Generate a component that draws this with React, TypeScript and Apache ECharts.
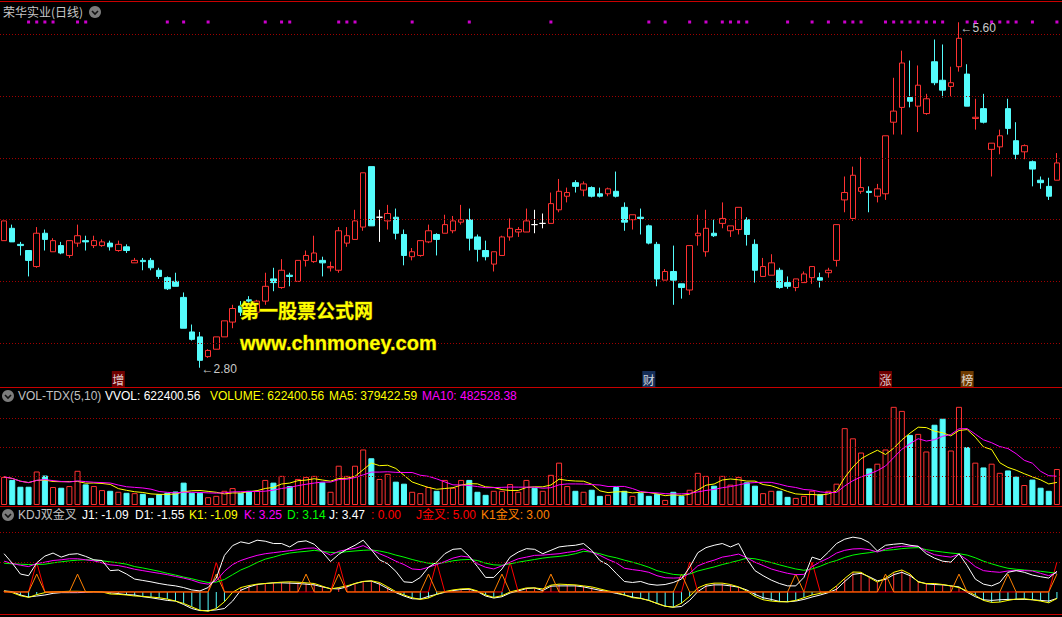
import React, { useEffect, useRef } from 'react';
import * as echarts from 'echarts';

// ---------- DATA ----------
// candles: [open, close, low, high]
const candles: number[][] = [
  [3.83,3.99,3.83,3.99],[3.93,3.82,3.82,3.96],[3.80,3.79,3.71,3.82],[3.75,3.67,3.54,3.75],[3.62,3.89,3.61,3.94],
  [3.89,3.84,3.75,3.92],[3.74,3.83,3.74,3.85],[3.79,3.73,3.72,3.82],[3.71,3.83,3.69,3.83],[3.81,3.87,3.78,3.96],
  [3.83,3.82,3.75,3.87],[3.79,3.83,3.77,3.87],[3.79,3.82,3.78,3.84],[3.81,3.78,3.75,3.83],[3.75,3.80,3.74,3.83],
  [3.78,3.75,3.73,3.80],[3.65,3.67,3.65,3.69],[3.67,3.66,3.59,3.69],[3.67,3.61,3.59,3.69],[3.59,3.54,3.52,3.61],
  [3.53,3.44,3.43,3.54],[3.50,3.46,3.46,3.57],[3.37,3.12,3.12,3.41],[3.09,3.03,3.02,3.15],[3.05,2.86,2.80,3.09],
  [2.89,2.94,2.88,2.95],[2.95,3.05,2.95,3.05],[3.05,3.18,3.05,3.18],[3.17,3.28,3.12,3.31],[3.30,3.25,3.22,3.34],
  [3.35,3.34,3.31,3.38],[3.25,3.34,3.24,3.35],[3.34,3.46,3.31,3.57],[3.52,3.49,3.42,3.61],[3.45,3.59,3.44,3.68],
  [3.55,3.54,3.46,3.57],[3.50,3.67,3.50,3.67],[3.67,3.71,3.62,3.75],[3.66,3.73,3.65,3.87],[3.67,3.65,3.54,3.70],
  [3.61,3.62,3.58,3.66],[3.59,3.91,3.57,3.94],[3.81,3.87,3.78,3.94],[3.84,3.99,3.84,4.08],[3.94,4.38,3.91,4.38],
  [4.43,3.95,3.95,4.43],[4.02,4.02,3.82,4.08],[3.99,4.05,3.92,4.12],[4.02,3.89,3.84,4.09],[3.88,3.71,3.63,3.92],
  [3.70,3.74,3.67,3.77],[3.71,3.83,3.70,3.83],[3.82,3.91,3.81,3.96],[3.88,3.84,3.71,3.89],[3.89,3.96,3.89,4.04],
  [3.91,3.99,3.89,4.03],[3.98,4.00,3.96,4.12],[4.00,3.85,3.75,4.09],[3.86,3.76,3.66,3.88],[3.75,3.70,3.67,3.83],
  [3.64,3.74,3.58,3.74],[3.71,3.86,3.71,3.87],[3.86,3.93,3.83,4.01],[3.90,3.92,3.86,3.94],[3.90,3.99,3.90,4.09],
  [3.96,3.96,3.89,4.08],[3.97,3.97,3.93,4.05],[3.97,4.13,3.97,4.22],[4.08,4.23,4.06,4.33],[4.19,4.22,4.14,4.26],
  [4.30,4.27,4.22,4.32],[4.24,4.29,4.19,4.31],[4.26,4.19,4.18,4.27],[4.21,4.19,4.18,4.26],[4.21,4.25,4.19,4.26],
  [4.23,4.19,4.18,4.39],[4.10,3.98,3.91,4.14],[4.00,4.04,3.92,4.04],[4.02,4.01,3.88,4.09],[3.95,3.81,3.80,3.96],
  [3.80,3.52,3.46,3.82],[3.51,3.58,3.51,3.60],[3.58,3.51,3.31,3.79],[3.48,3.45,3.36,3.48],[3.43,3.79,3.39,3.79],
  [3.87,3.89,3.79,4.04],[3.74,3.93,3.70,4.08],[3.89,3.87,3.86,4.00],[3.97,4.01,3.93,4.14],[3.91,3.95,3.86,3.95],
  [3.92,4.10,3.88,4.10],[4.00,3.88,3.79,4.02],[3.80,3.59,3.49,3.84],[3.54,3.62,3.54,3.69],[3.55,3.65,3.55,3.72],
  [3.59,3.45,3.44,3.61],[3.49,3.46,3.44,3.54],[3.45,3.52,3.42,3.52],[3.49,3.56,3.49,3.58],[3.53,3.62,3.48,3.62],
  [3.53,3.51,3.45,3.57],[3.57,3.59,3.53,3.61],[3.67,3.96,3.62,3.96],[4.16,4.22,4.06,4.35],[4.01,4.36,3.99,4.43],
  [4.23,4.26,4.21,4.51],[4.23,4.22,4.06,4.27],[4.19,4.25,4.14,4.29],[4.21,4.68,4.16,4.68],[4.79,4.88,4.69,5.15],
  [4.91,5.27,4.69,5.37],[4.99,4.96,4.91,5.29],[4.92,5.09,4.71,5.25],[4.86,4.98,4.85,5.02],[5.28,5.11,5.09,5.46],
  [5.13,5.05,4.99,5.42],[5.08,5.11,5.00,5.24],[5.24,5.47,5.20,5.60],[5.18,4.92,4.92,5.26],[4.82,4.83,4.73,4.98],
  [4.90,4.79,4.78,5.02],[4.57,4.62,4.35,4.62],[4.59,4.68,4.53,4.73],[4.90,4.74,4.69,4.98],[4.64,4.53,4.49,4.79],
  [4.55,4.60,4.49,4.61],[4.47,4.41,4.27,4.48],[4.32,4.30,4.25,4.35],[4.27,4.19,4.16,4.34],[4.32,4.46,4.32,4.54],
];
const categories = candles.map((_, i) => String(i + 1));
const whiteDoji = [46, 65, 66];

const volumes: number[] = [
  486000,434000,316000,316000,580000,510000,311000,299000,328000,592000,
  357000,328000,258000,246000,229000,211000,205000,193000,123000,188000,
  211000,234000,387000,211000,211000,135000,158000,246000,293000,211000,
  246000,246000,434000,387000,504000,328000,451000,486000,504000,393000,
  229000,680000,504000,680000,961000,809000,451000,539000,404000,369000,
  229000,205000,311000,246000,434000,299000,434000,434000,229000,176000,
  246000,246000,363000,229000,434000,299000,246000,522000,733000,328000,
  246000,229000,264000,158000,176000,311000,246000,158000,211000,158000,
  193000,88000,229000,158000,264000,557000,504000,334000,504000,352000,
  486000,393000,334000,205000,246000,246000,141000,123000,158000,246000,
  188000,246000,369000,1330000,1154000,908000,633000,715000,961000,1699000,
  1629000,1213000,1231000,926000,1389000,1494000,943000,1699000,1002000,733000,
  650000,715000,557000,598000,492000,346000,440000,299000,246000,622400.56,
];

const kdjJ: number[] = [
  6.42,4.83,3.01,2.73,4.89,6.02,6.53,5.85,6.31,6.42, 5.97,5.40,5.28,3.58,3.69,3.01,2.16,1.93,1.70,1.42,
  1.19,1.02,0.74,0.34,0.17,0.74,2.33,6.14,7.78,8.41, 8.13,8.69,8.52,8.13,8.13,7.56,8.41,8.58,8.01,6.70,
  5.11,6.31,7.16,7.84,8.69,7.10,5.40,4.72,3.47,1.70, 1.59,2.44,4.15,5.00,6.42,7.16,7.27,5.97,4.26,2.44,
  2.44,3.86,5.85,6.70,7.27,7.16,6.42,6.99,7.56,7.73, 7.84,8.13,6.99,5.28,4.55,3.13,1.76,1.59,1.76,1.31,
  1.14,1.25,1.59,2.16,4.15,6.59,7.44,7.84,8.13,7.56, 8.13,5.57,3.58,2.73,1.99,1.42,1.02,1.02,2.44,5.85,
  5.40,6.70,8.13,8.86,9.20,8.98,8.30,6.88,7.84,8.01, 8.13,7.84,7.67,6.42,5.68,5.17,5.00,6.42,4.43,2.16,
  1.31,1.02,1.59,3.30,3.58,3.30,2.84,2.56,2.33,3.47,
];
const kdjK: number[] = [
  5.17,4.77,4.49,4.26,4.77,5.00,5.28,5.40,5.57,5.57, 5.40,5.23,4.89,4.55,4.43,4.15,3.81,3.58,3.35,3.13,
  2.90,2.61,2.33,1.99,1.53,1.31,1.88,3.47,4.60,5.28, 5.74,6.14,6.42,6.59,6.76,6.93,7.10,7.33,7.39,6.82,
  6.19,6.82,7.10,7.33,7.78,7.10,6.42,5.85,5.17,4.60, 3.86,3.75,4.15,4.60,5.11,5.68,6.02,5.85,4.72,4.15,
  3.86,4.38,5.00,5.57,5.85,6.14,6.19,6.31,6.42,6.65, 6.82,7.22,6.70,6.14,5.45,4.89,3.98,3.75,3.58,3.30,
  2.73,2.39,2.33,2.39,3.13,4.38,4.94,5.34,5.85,6.08, 6.36,5.74,5.00,4.43,3.86,3.47,3.13,2.90,2.95,4.26,
  5.06,5.68,6.53,6.99,7.22,7.27,7.10,6.70,7.22,7.50, 7.67,7.67,7.67,6.82,6.25,6.02,5.85,6.31,5.40,4.26,
  3.58,3.41,3.30,3.52,3.58,3.58,3.52,3.13,2.73,3.25,
];
const kdjD: number[] = [
  4.83,4.72,4.66,4.60,4.60,4.66,4.89,5.06,5.23,5.34, 5.40,5.34,5.23,5.06,4.89,4.66,4.26,4.03,3.75,3.47,
  3.13,2.84,2.50,2.22,1.88,1.59,1.65,2.10,2.90,3.69, 4.26,4.94,5.51,5.85,6.25,6.53,6.70,6.82,6.99,6.82,
  6.65,6.59,6.76,6.88,6.99,7.05,6.88,6.59,6.19,5.85, 5.45,5.11,4.83,4.77,4.94,5.23,5.40,5.45,5.28,4.83,
  4.55,4.49,4.72,5.00,5.23,5.45,5.68,5.85,5.97,6.14, 6.42,6.82,6.70,6.42,6.02,5.74,5.34,5.00,4.60,4.15,
  3.58,3.24,2.95,2.84,3.01,3.52,3.86,4.20,4.60,4.94, 5.28,5.68,5.57,5.28,4.94,4.55,4.20,3.86,3.64,3.86,
  4.32,4.89,5.28,5.80,6.19,6.42,6.59,6.82,6.99,7.10, 7.27,7.39,7.44,7.10,6.88,6.70,6.53,6.42,6.19,5.74,
  5.17,4.72,4.32,3.98,3.81,3.69,3.58,3.47,3.30,3.14,
];
const kdjK1: number[] = [
  0.17,-0.11,-0.63,-0.91,-0.45,-0.11,0,0.06,0.11,0.11, 0.06,0.06,0,-0.34,-0.40,-0.51,-0.68,-0.74,-0.85,-0.97,
  -1.19,-1.53,-1.93,-2.50,-3.07,-3.24,-2.78,-1.65,-0.06,0.74, 1.08,1.31,1.42,1.53,1.65,1.70,1.65,1.53,1.42,0.97,
  0.51,0.74,1.02,1.42,1.76,1.88,1.59,0.85,0.06,-0.51, -0.97,-1.25,-1.02,-0.40,0.06,0.34,0.51,0.57,0.17,-0.51,
  -0.91,-0.63,0,0.34,0.68,0.68,0.51,1.14,1.31,1.25, 1.19,1.02,0.85,0.51,0.17,-0.06,-0.51,-0.97,-1.08,-1.42,
  -1.93,-2.39,-2.56,-1.88,-0.74,0.68,1.25,1.48,1.48,1.25, 0.85,0.17,-0.74,-1.31,-1.53,-1.65,-1.65,-1.42,-0.97,-0.51,
  -0.23,0,1.02,2.27,3.35,3.30,2.44,1.65,2.33,3.30, 3.69,3.01,1.65,1.42,1.42,1.25,1.02,0.74,0.17,-0.57,
  -1.42,-1.76,-1.70,-1.42,-1.19,-1.14,-1.31,-1.53,-1.82,-1.09,
];
const kdjJ1: number[] = [
  0.17,0.06,-0.51,-0.85,-0.68,-0.51,-0.23,-0.11,-0.11,-0.11, -0.06,0,0,-0.11,-0.28,-0.45,-0.51,-0.80,-0.97,-1.19,
  -1.42,-1.53,-2.10,-2.78,-3.13,-3.13,-3.01,-2.78,-1.53,0.28, 0.85,1.25,1.42,1.53,1.53,1.48,1.42,1.31,1.19,0.85,
  0.57,0.51,0.85,1.42,1.76,1.82,1.31,0.57,-0.11,-0.68, -1.14,-1.19,-0.74,-0.40,-0.06,0.23,0.40,0.45,0.06,-0.68,
  -1.02,-0.80,-0.17,0.17,0.57,0.68,0.23,0.97,1.02,1.02, 1.02,0.85,0.57,0.28,0.06,-0.23,-0.51,-0.85,-1.08,-1.42,
  -1.93,-2.39,-2.56,-2.44,-1.42,0.06,0.97,1.19,1.19,1.02, 0.80,0.34,-0.40,-0.97,-1.25,-1.59,-1.65,-1.53,-1.25,-0.85,
  -0.51,-0.11,0.45,1.76,2.95,3.13,2.56,1.88,2.10,2.90, 3.30,2.73,1.76,1.36,1.25,1.19,1.02,0.85,-0.06,-0.80,
  -1.31,-1.42,-1.31,-1.25,-1.25,-1.25,-1.31,-1.42,-1.53,-1.09,
];
const jCrossIdx = [4, 26, 41, 53, 62, 84, 99, 129];
const k1CrossIdx = [4, 9, 26, 37, 41, 52, 61, 67, 83, 97, 108, 117, 123, 129];
const jCrossLevel = 5;
const k1CrossLevel = 3;

const signalDotIdx = [3,4,5,6,9,10,20,22,25,32,34,35,41,42,43,50,57,67,79,81,84,86,88,89,90,91,96,99,101,103,104,105,108,109,110,111,112,113,114,115,118,119,121,122,123,124,126,129];

const tagIdx = [14, 79, 108, 118];
const tagText = ['增', '财', '涨', '榜'];
const tagColor = ['#8a0000', '#1a3a6e', '#8a0000', '#8a4a00'];

const priceLines = [3.0, 3.5, 4.0, 4.5, 5.0, 5.5];
const volumeLines = [500000, 1000000, 1500000];
const kdjLines = [5, 10];

const titleText = '荣华实业(日线)';
const volLegend: [string, string, number][] = [
  ['VOL-TDX(5,10)', '#c0c0c0', 18],
  ['VVOL: 622400.56', '#ffffff', 105],
  ['VOLUME: 622400.56', '#ffff00', 210],
  ['MA5: 379422.59', '#ffff00', 329],
  ['MA10: 482528.38', '#ff00ff', 422],
];
const kdjLegend: [string, string, number][] = [
  ['KDJ双金叉', '#c0c0c0', 18],
  ['J1: -1.09', '#ffffff', 82],
  ['D1: -1.55', '#ffffff', 135],
  ['K1: -1.09', '#ffff00', 189],
  ['K: 3.25', '#ff00ff', 244],
  ['D: 3.14', '#00ff00', 287],
  ['J: 3.47', '#ffffff', 329],
  [': 0.00', '#ff0000', 371],
  ['J金叉: 5.00', '#ff0000', 416],
  ['K1金叉: 3.00', '#ff8000', 481],
];

// ---------- STYLE ----------
const RED = '#ff3232';
const CYAN = '#54fcfc';
const GRIDRED = '#a00000';
const FONT = "Arial, 'Liberation Sans', 'Noto Sans CJK SC', sans-serif";
const CJK = "'Noto Sans CJK SC', sans-serif";

function movingAvg(arr: number[], n: number) {
  return arr.map((_, i) => {
    const s = arr.slice(Math.max(0, i - n + 1), i + 1);
    return s.reduce((a, b) => a + b, 0) / s.length;
  });
}

function icon(cx: number, cy: number) {
  return [
    { type: 'circle', silent: true, shape: { cx, cy, r: 6 }, style: { fill: '#7c7c7c' } },
    { type: 'polyline', silent: true, shape: { points: [[cx - 3, cy - 1], [cx, cy + 2], [cx + 3, cy - 1]] }, style: { stroke: '#111', lineWidth: 1.6, fill: 'none' } },
  ];
}

function buildOption() {
  const isUp = (i: number) => {
    const [o, c] = candles[i];
    if (c !== o) return c > o;
    return i > 0 ? c >= candles[i - 1][1] : true;
  };
  const candleData = candles.map((c, i) =>
    whiteDoji.includes(i)
      ? { value: c, itemStyle: { color: '#fff', color0: '#fff', borderColor: '#fff', borderColor0: '#fff' } }
      : c
  );
  const volData = volumes.map((v, i) => ({
    value: v,
    itemStyle: isUp(i)
      ? { color: '#000', borderColor: RED, borderWidth: 1 }
      : { color: CYAN, borderColor: CYAN, borderWidth: 1 },
  }));
  const ma5 = movingAvg(volumes, 5);
  const ma10 = movingAvg(volumes, 10);
  const stickData = kdjK1.map((v) => ({ value: v, itemStyle: { color: v >= 0 ? RED : CYAN } }));
  const jCross = categories.map((_, i) => (jCrossIdx.includes(i) ? jCrossLevel : 0));
  const k1Cross = categories.map((_, i) => (k1CrossIdx.includes(i) ? k1CrossLevel : 0));

  const grids = [
    { left: 0, right: 1, top: 18, height: 8 },
    { left: 0, right: 1, top: 5, height: 380 },
    { left: 0, right: 1, top: 371, height: 16 },
    { left: 0, right: 1, top: 401, height: 104 },
    { left: 0, right: 1, top: 520, height: 94 },
  ];
  const yRanges = [[0, 1], [2.66, 5.74], [0, 1], [0, 1800000], [-3.7, 12.08]];

  const mkLine = (vals: number[]) => ({
    silent: true,
    symbol: ['none', 'none'],
    label: { show: false },
    lineStyle: { color: GRIDRED, width: 1, type: [1, 2] as any },
    emphasis: { disabled: true },
    data: vals.map((v) => ({ yAxis: v })),
  });
  const line = (name: string, data: number[], color: string, z = 3) => ({
    name, type: 'line', xAxisIndex: 4, yAxisIndex: 4, data, symbol: 'none', showSymbol: false,
    lineStyle: { color, width: 1 }, silent: true, z,
  });

  const txt = (text: string, x: number, y: number, fill: string, font = FONT) => ({
    type: 'text', silent: true, x, y, z: 0,
    style: { text, fill, fontSize: 12, lineHeight: 12, fontFamily: font, verticalAlign: 'middle' },
  });

  const graphic: any[] = [
    { type: 'line', silent: true, shape: { x1: 0, y1: 1.5, x2: 1062, y2: 1.5 }, style: { stroke: '#c80000', lineWidth: 1 } },
    { type: 'line', silent: true, shape: { x1: 0, y1: 387.5, x2: 1062, y2: 387.5 }, style: { stroke: '#c80000', lineWidth: 1 } },
    { type: 'line', silent: true, shape: { x1: 0, y1: 506.5, x2: 1062, y2: 506.5 }, style: { stroke: '#c80000', lineWidth: 1 } },
    { type: 'line', silent: true, shape: { x1: 0, y1: 614.5, x2: 1062, y2: 614.5 }, style: { stroke: '#c80000', lineWidth: 1 } },
    txt(titleText, 3, 11, '#c8c8c8', CJK),
    ...icon(95, 12),
    ...icon(8, 396),
    ...icon(8, 515),
    ...volLegend.map(([t, c, x]) => txt(t, x, 396, c)),
    ...kdjLegend.map(([t, c, x]) => txt(t, x, 515, c)),
    { type: 'text', silent: true, x: 240, y: 309, z: 100, style: { text: '第一股票公式网', fill: '#ffff00', fontSize: 19, lineHeight: 19, fontWeight: 'bold', fontFamily: CJK, verticalAlign: 'middle', stroke: '#5a4a00', lineWidth: 1 } },
    { type: 'text', silent: true, x: 240, y: 343, z: 100, style: { text: 'www.chnmoney.com', fill: '#ffff00', fontSize: 20, lineHeight: 20, fontWeight: 'bold', fontFamily: FONT, verticalAlign: 'middle', stroke: '#5a4a00', lineWidth: 1 } },
  ];

  return {
    animation: false,
    backgroundColor: '#000',
    grid: grids,
    xAxis: grids.map((_, k) => ({ type: 'category', gridIndex: k, data: categories, boundaryGap: true, show: false })),
    yAxis: yRanges.map(([mn, mx], k) => ({ type: 'value', gridIndex: k, min: mn, max: mx, show: false, splitLine: { show: false } })),
    graphic,
    series: [
      {
        type: 'candlestick', xAxisIndex: 1, yAxisIndex: 1, barWidth: 6, data: candleData, silent: true,
        itemStyle: { color: '#000', color0: CYAN, borderColor: RED, borderColor0: CYAN, borderWidth: 1 },
        markLine: mkLine(priceLines),
        markPoint: {
          silent: true,
          symbol: 'circle',
          symbolSize: 1,
          itemStyle: { color: 'rgba(0,0,0,0)' },
          label: { show: true, position: 'right', distance: 1, color: '#c8c8c8', fontSize: 12, fontFamily: FONT },
          data: [
            { coord: [117, 5.60], label: { formatter: '←5.60', offset: [0, 6] } },
            { coord: [24, 2.80], label: { formatter: '←2.80', offset: [0, 1] } },
          ],
        },
      },
      {
        type: 'scatter', xAxisIndex: 2, yAxisIndex: 2, symbol: 'rect', symbolSize: [13, 16], silent: true,
        data: tagIdx.map((idx, k) => ({
          value: [idx, 0.5],
          itemStyle: { color: tagColor[k] },
          label: { show: true, position: 'inside', formatter: tagText[k], color: '#fff', fontSize: 12, fontFamily: CJK },
        })),
      },
      {
        type: 'bar', xAxisIndex: 3, yAxisIndex: 3, barWidth: 6, data: volData, silent: true,
        markLine: mkLine(volumeLines),
      },
      {
        type: 'line', xAxisIndex: 3, yAxisIndex: 3, data: ma5, symbol: 'none', silent: true,
        lineStyle: { color: '#ffff00', width: 1 },
      },
      {
        type: 'line', xAxisIndex: 3, yAxisIndex: 3, data: ma10, symbol: 'none', silent: true,
        lineStyle: { color: '#ff00ff', width: 1 },
      },
      {
        type: 'bar', xAxisIndex: 4, yAxisIndex: 4, barWidth: 1, data: stickData, silent: true, z: 2,
        markLine: mkLine(kdjLines),
      },
      line('J1', kdjJ1, '#ffffff'),
      line('K1', kdjK1, '#ffff00'),
      line('Jcross', jCross, '#ff0000'),
      line('K1cross', k1Cross, '#ff8000'),
      line('D', kdjD, '#00ff00'),
      line('K', kdjK, '#ff00ff'),
      line('J', kdjJ, '#ffffff'),
      {
        type: 'scatter', xAxisIndex: 0, yAxisIndex: 0, symbol: 'rect', symbolSize: 3, silent: true, z: 100,
        itemStyle: { color: '#ff00ff' },
        data: signalDotIdx.map((i) => [i, 0.5]),
      },
    ],
  };
}

export default function App() {
  const ref = useRef<HTMLDivElement>(null);
  useEffect(() => {
    document.body.style.margin = '0';
    document.body.style.background = '#000';
    const chart = echarts.init(ref.current!, null, { renderer: 'svg' });
    chart.setOption(buildOption() as any);
    return () => chart.dispose();
  }, []);
  return (
    <div
      ref={ref}
      style={{ position: 'absolute', left: 0, top: 0, width: 1062, height: 617, background: '#000' }}
    />
  );
}
